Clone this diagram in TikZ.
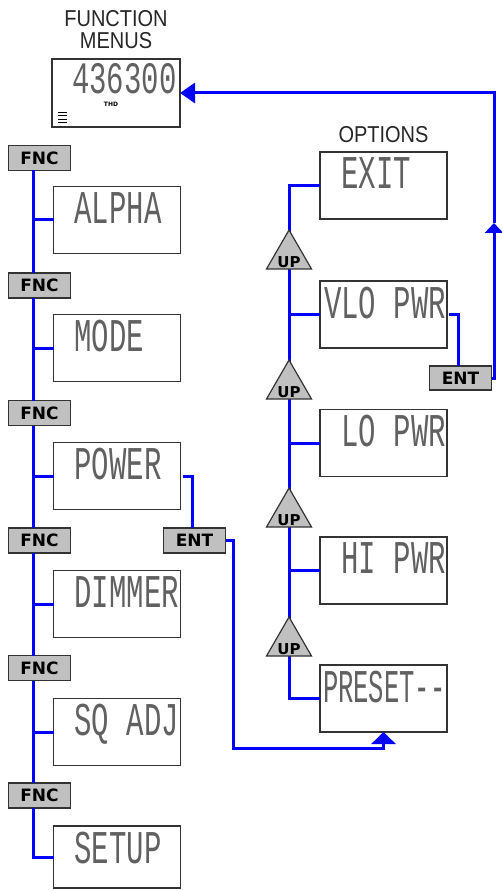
\documentclass[tikz,border=0pt]{standalone}
\usepackage{graphicx}
\usepackage{fontspec}
\setmainfont{Liberation Sans}
\newfontfamily\lcdfont{Liberation Mono}
\newfontfamily\btnfont{DejaVu Sans}
\usetikzlibrary{shapes.geometric,arrows.meta}
\definecolor{lineblue}{RGB}{0,0,255}
\definecolor{btngray}{RGB}{192,192,192}
\newcommand{\lcdtxt}[1]{\scalebox{1}[1.62]{#1}}
\newcommand{\ttltxt}[1]{\scalebox{1}[1.15]{#1}}
\begin{document}
\begin{tikzpicture}[x=1pt,y=-1pt,
 every node/.style={inner sep=0pt,outer sep=0pt},
 screen/.style={draw=black!80,line width=1.2pt,fill=white,minimum width=127pt,minimum height=67pt},
 keybox/.style={draw=black!80,line width=1.2pt,fill=btngray,minimum width=62pt,minimum height=25pt,
   font=\btnfont\bfseries\fontsize{17}{17}\selectfont},
 upkey/.style={regular polygon,regular polygon sides=3,draw=black!80,line width=1.2pt,fill=btngray,minimum size=52pt,
   label={[font=\btnfont\bfseries\fontsize{15}{15}\selectfont,yshift=-6pt]center:UP}},
 lcd/.style={anchor=north west,text=black!62,font=\lcdfont\fontsize{29}{29}\selectfont},
 wire/.style={draw=lineblue,line width=3pt},
 ttl/.style={text=black!85,font=\fontsize{20}{20}\selectfont}
]
\useasboundingbox (0,0) rectangle (501,890);

% titles
\node[ttl] (fmA) at (116,18.5) {\ttltxt{FUNCTION}};
\node[ttl] (fmB) at (116,41) {\ttltxt{MENUS}};
\node[ttl] (opt) at (383.5,135) {\ttltxt{OPTIONS}};

% column guide coordinates
\coordinate (lx) at (33,0);
\coordinate (rx) at (289,0);

% top display
\node[screen,minimum width=128pt,minimum height=68pt] (disp) at (116,93) {};
\node[lcd] (dispT) at ([xshift=20pt,yshift=-4pt]disp.north west) {\scalebox{1}[1.55]{436300}};
\node[font=\btnfont\bfseries\fontsize{6}{6}\selectfont] (thd) at (111,104) {THD};
\draw[line width=0.9pt] (58,112) -- (67,112) (58,115.5) -- (67,115.5) (58,119) -- (67,119) (58,122.5) -- (67,122.5);

% FNC keys
\foreach \k/\yy in {1/158,2/285.5,3/413,4/540.5,5/668,6/795.5}
  \node[keybox] (fnc\k) at (39.5,\yy) {FNC};

% left screens
\node[screen] (alpha) at (117,220) {};
\node[screen] (mode) at (117,348) {};
\node[screen] (power) at (117,476) {};
\node[screen] (dimmer) at (117,604) {};
\node[screen] (sqadj) at (117,732) {};
\node[screen,minimum height=62pt] (setup) at (117,857) {};
\node[lcd] (alphaT) at ([xshift=21pt,yshift=-6pt]alpha.north west) {\lcdtxt{ALPHA}};
\node[lcd] (modeT) at ([xshift=21pt,yshift=-6pt]mode.north west) {\lcdtxt{MODE}};
\node[lcd] (powerT) at ([xshift=21pt,yshift=-6pt]power.north west) {\lcdtxt{POWER}};
\node[lcd] (dimmerT) at ([xshift=21pt,yshift=-6pt]dimmer.north west) {\lcdtxt{DIMMER}};
\node[lcd] (sqadjT) at ([xshift=21pt,yshift=-6pt]sqadj.north west) {\lcdtxt{SQ ADJ}};
\node[lcd] (setupT) at ([xshift=21pt,yshift=-6pt]setup.north west) {\lcdtxt{SETUP}};

% ENT keys
\node[keybox] (entL) at (194.5,540.5) {ENT};
\node[keybox,minimum height=24pt] (entR) at (460.5,378) {ENT};

% right screens
\node[screen] (exit) at (383.5,185.5) {};
\node[screen] (vlo) at (383.5,314.5) {};
\node[screen] (lo) at (383.5,443) {};
\node[screen] (hi) at (383.5,570.5) {};
\node[screen] (preset) at (383.5,698.5) {};
\node[lcd] (exitT) at ([xshift=4pt,yshift=-6pt]exit.north west) {\lcdtxt{\hphantom{X}EXIT}};
\node[lcd] (vloT) at ([xshift=4pt,yshift=-6pt]vlo.north west) {\lcdtxt{VLO PWR}};
\node[lcd] (loT) at ([xshift=4pt,yshift=-6pt]lo.north west) {\lcdtxt{\hphantom{X}LO PWR}};
\node[lcd] (hiT) at ([xshift=4pt,yshift=-6pt]hi.north west) {\lcdtxt{\hphantom{X}HI PWR}};
\node[lcd] (presetT) at ([xshift=3pt,yshift=-6pt]preset.north west) {\scalebox{0.88}[1.62]{PRESET--}};

% UP key positions
\coordinate (up1c) at (289,256);
\coordinate (up2c) at (289,386);
\coordinate (up3c) at (289,514);
\coordinate (up4c) at (289,643);

% left wires
\foreach \a/\b in {1/2,2/3,3/4,4/5,5/6}
  \draw[wire] (fnc\a.south -| lx) -- (fnc\b.north -| lx);
\draw[wire] (fnc6.south -| lx) |- (setup.west);
\draw[wire] (alpha.west -| lx) -- (alpha.west);
\draw[wire] (mode.west -| lx) -- (mode.west);
\draw[wire] (power.west -| lx) -- (power.west);
\draw[wire] (dimmer.west -| lx) -- (dimmer.west);
\draw[wire] (sqadj.west -| lx) -- (sqadj.west);

% right column wires
\draw[wire] (exit.west) -| (rx |- up1c) -- (up4c);
\draw[wire] (up4c) |- (preset.west);
\draw[wire] (vlo.west -| rx) -- (vlo.west);
\draw[wire] (lo.west -| rx) -- (lo.west);
\draw[wire] (hi.west -| rx) -- (hi.west);

\node[upkey] (up1) at (up1c) {};
\node[upkey] (up2) at (up2c) {};
\node[upkey] (up3) at (up3c) {};
\node[upkey] (up4) at (up4c) {};

% ENT wires
\draw[wire] ([xshift=2pt]power.east) -| ([xshift=-2.5pt]entL.north);
\draw[wire] ([xshift=2pt]vlo.east) -| ([xshift=-2.5pt]entR.north);
\coordinate (upArr) at (494,223);
\draw[wire,-{Triangle[length=10pt,width=18pt]}] (entR.east) -| (upArr);
\draw[wire,-{Triangle[length=15pt,width=20pt]}] (upArr) |- (disp.east);
\coordinate (loopC) at (233,748);
\draw[wire,-{Triangle[length=12pt,width=24pt]}] (entL.east) -| (loopC) -- (loopC -| preset.south) -- (preset.south);
\end{tikzpicture}
\end{document}
